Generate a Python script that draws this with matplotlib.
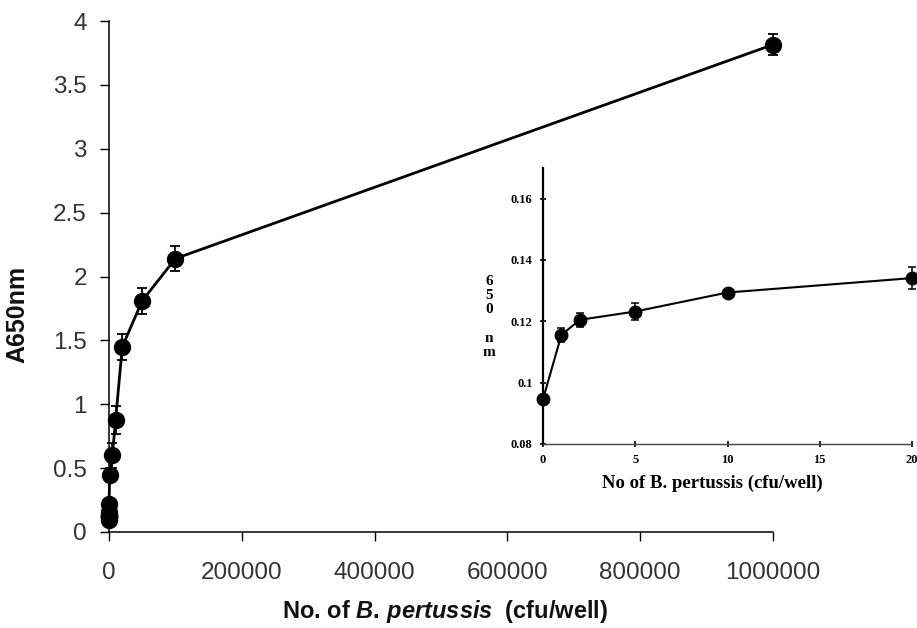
import matplotlib
matplotlib.use("Agg")
import matplotlib.pyplot as plt

# ---- main curve data ----
cfu = [0, 1, 2, 5, 10, 20, 50, 100, 1000, 5000, 10000, 20000, 50000, 100000, 1000000]
a650 = [0.095, 0.115, 0.12, 0.123, 0.129, 0.134, 0.16, 0.22, 0.45, 0.60, 0.88, 1.45, 1.81, 2.14, 3.815]
a650_err = [0.0, 0.0, 0.0, 0.0, 0.0, 0.0, 0.0, 0.03, 0.05, 0.10, 0.11, 0.10, 0.10, 0.095, 0.08]

xticks_main = [0, 200000, 400000, 600000, 800000, 1000000]
xtick_labels_main = ["0", "200000", "400000", "600000", "800000", "1000000"]
yticks_main = [0, 0.5, 1, 1.5, 2, 2.5, 3, 3.5, 4]
ytick_labels_main = ["0", "0.5", "1", "1.5", "2", "2.5", "3", "3.5", "4"]

# ---- inset data ----
cfu_low = [0, 1, 2, 5, 10, 20]
a650_low = [0.0946, 0.1156, 0.1205, 0.1232, 0.1294, 0.1341]
a650_low_err = [0.0, 0.0023, 0.0023, 0.0027, 0.0007, 0.0037]
xticks_inset = [0, 5, 10, 15, 20]
yticks_inset = [0.08, 0.1, 0.12, 0.14, 0.16]
ytick_labels_inset = ["0.08", "0.1", "0.12", "0.14", "0.16"]

plt.rcParams['mathtext.fontset'] = 'custom'
plt.rcParams['mathtext.rm'] = 'Liberation Sans:bold'
plt.rcParams['mathtext.it'] = 'Liberation Sans:italic:bold'

fig = plt.figure(figsize=(9.17, 6.28), dpi=100)
ax = fig.add_axes([109/917, 96/628, 664/917, 511/628])

ax.errorbar(cfu, a650, yerr=a650_err, fmt='-o', color='black', lw=2.0,
            ms=11.5, elinewidth=1.3, capsize=3.5, capthick=1.3, zorder=3)
ax.set_xlim(0, 1000000)
ax.set_ylim(0, 4)
ax.set_xticks(xticks_main)
ax.set_xticklabels(xtick_labels_main)
ax.set_yticks(yticks_main)
ax.set_yticklabels(ytick_labels_main)
for s in ['top', 'right']:
    ax.spines[s].set_visible(False)
for s in ['left', 'bottom']:
    ax.spines[s].set_linewidth(1.1)
ax.tick_params(axis='x', direction='out', length=6.5, width=1, pad=15,
               labelsize=17.5, labelcolor='#333333')
ax.tick_params(axis='y', direction='out', length=6.5, width=1, pad=9.5,
               labelsize=17.5, labelcolor='#333333')
for lbl in ax.get_xticklabels() + ax.get_yticklabels():
    lbl.set_family('Liberation Sans')
for ln in ax.lines:
    ln.set_clip_on(False)
for c in ax.collections:
    c.set_clip_on(False)

ax.set_ylabel("A650nm", fontsize=18, fontweight='bold', family='Liberation Sans',
              color='#111111')
ax.yaxis.set_label_coords(-(109 - 29) / 664, (531 - 313) / 511)
ax.set_xlabel(r"No. of $\mathit{B.\,pertussis}$  (cfu/well)", fontsize=17,
              fontweight='bold', family='Liberation Sans', color='#111111')
ax.xaxis.set_label_coords((445 - 109) / 664, -(598 - 532) / 511)

# ---- inset ----
axi = fig.add_axes([543/917, 184/628, 369/917, 276/628])
axi.errorbar(cfu_low, a650_low, yerr=a650_low_err, fmt='-o', color='black',
             lw=1.5, ms=9, elinewidth=1.1, capsize=2.8, capthick=1.1, zorder=3)
axi.set_xlim(0, 20)
axi.set_ylim(0.08, 0.17)
axi.set_xticks(xticks_inset)
axi.set_yticks(yticks_inset)
axi.set_yticklabels(ytick_labels_inset)
axi.patch.set_visible(False)
for s in ['top', 'right']:
    axi.spines[s].set_visible(False)
axi.spines['left'].set_linewidth(1.6)
axi.spines['bottom'].set_linewidth(1.0)
axi.spines['bottom'].set_color('#444444')
axi.tick_params(axis='both', direction='inout', length=5, width=1.2,
                labelsize=9, pad=5)
for lbl in axi.get_xticklabels() + axi.get_yticklabels():
    lbl.set_family('Liberation Serif')
    lbl.set_fontweight('bold')
for ln in axi.lines:
    ln.set_clip_on(False)
for c in axi.collections:
    c.set_clip_on(False)

axi.set_xlabel("No of B. pertussis (cfu/well)", fontsize=13.5, fontweight='bold',
               family='Liberation Serif')
axi.xaxis.set_label_coords((712 - 543) / 369, -(475 - 444) / 276)
fig.text(489/917, 1 - 317/628, "6\n5\n0\n\nn\nm", fontsize=11, fontweight='bold',
         family='Liberation Serif', ha='center', va='center', linespacing=1.12)

fig.savefig("out.png", dpi=100)
